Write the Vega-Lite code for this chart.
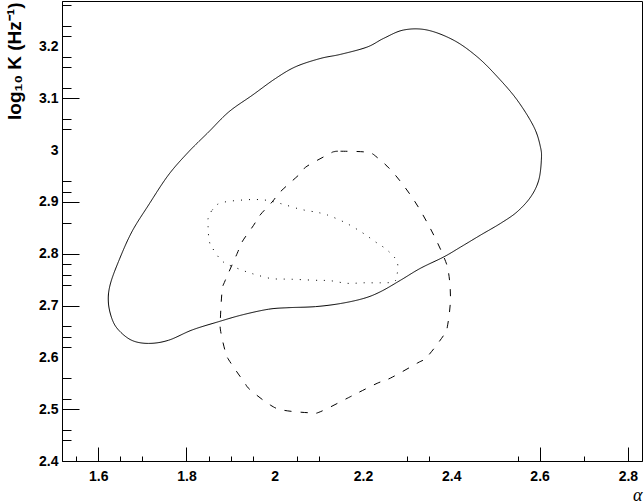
{
  "$schema": "https://vega.github.io/schema/vega-lite/v6.json",
  "width": 580,
  "height": 460,
  "autosize": {"type": "none"},
  "padding": {"left": 62, "top": 1, "right": 2, "bottom": 43},
  "background": "white",
  "config": {
    "view": {"stroke": "black", "strokeWidth": 1},
    "axis": {
      "grid": false,
      "domainColor": "black",
      "tickColor": "black",
      "labelColor": "black",
      "titleColor": "black",
      "labelFont": "Liberation Sans",
      "labelFontWeight": "bold",
      "labelFontSize": 14,
      "labelFlush": false,
      "labelOverlap": false
    }
  },
  "data": {
    "values": [
      {"c": "solid", "i": 1, "alpha": 1.623, "k": 2.707},
      {"c": "solid", "i": 2, "alpha": 1.627, "k": 2.740},
      {"c": "solid", "i": 3, "alpha": 1.646, "k": 2.785},
      {"c": "solid", "i": 4, "alpha": 1.676, "k": 2.842},
      {"c": "solid", "i": 5, "alpha": 1.714, "k": 2.894},
      {"c": "solid", "i": 6, "alpha": 1.759, "k": 2.952},
      {"c": "solid", "i": 7, "alpha": 1.805, "k": 2.997},
      {"c": "solid", "i": 8, "alpha": 1.850, "k": 3.035},
      {"c": "solid", "i": 9, "alpha": 1.896, "k": 3.074},
      {"c": "solid", "i": 10, "alpha": 1.949, "k": 3.106},
      {"c": "solid", "i": 11, "alpha": 2.001, "k": 3.138},
      {"c": "solid", "i": 12, "alpha": 2.047, "k": 3.161},
      {"c": "solid", "i": 13, "alpha": 2.103, "k": 3.177},
      {"c": "solid", "i": 14, "alpha": 2.149, "k": 3.185},
      {"c": "solid", "i": 15, "alpha": 2.209, "k": 3.199},
      {"c": "solid", "i": 16, "alpha": 2.247, "k": 3.216},
      {"c": "solid", "i": 17, "alpha": 2.292, "k": 3.232},
      {"c": "solid", "i": 18, "alpha": 2.345, "k": 3.232},
      {"c": "solid", "i": 19, "alpha": 2.406, "k": 3.212},
      {"c": "solid", "i": 20, "alpha": 2.459, "k": 3.180},
      {"c": "solid", "i": 21, "alpha": 2.504, "k": 3.142},
      {"c": "solid", "i": 22, "alpha": 2.549, "k": 3.097},
      {"c": "solid", "i": 23, "alpha": 2.587, "k": 3.045},
      {"c": "solid", "i": 24, "alpha": 2.602, "k": 3.006},
      {"c": "solid", "i": 25, "alpha": 2.604, "k": 2.981},
      {"c": "solid", "i": 26, "alpha": 2.598, "k": 2.942},
      {"c": "solid", "i": 27, "alpha": 2.580, "k": 2.910},
      {"c": "solid", "i": 28, "alpha": 2.549, "k": 2.881},
      {"c": "solid", "i": 29, "alpha": 2.512, "k": 2.859},
      {"c": "solid", "i": 30, "alpha": 2.466, "k": 2.836},
      {"c": "solid", "i": 31, "alpha": 2.421, "k": 2.813},
      {"c": "solid", "i": 32, "alpha": 2.383, "k": 2.794},
      {"c": "solid", "i": 33, "alpha": 2.330, "k": 2.772},
      {"c": "solid", "i": 34, "alpha": 2.285, "k": 2.749},
      {"c": "solid", "i": 35, "alpha": 2.240, "k": 2.727},
      {"c": "solid", "i": 36, "alpha": 2.202, "k": 2.714},
      {"c": "solid", "i": 37, "alpha": 2.149, "k": 2.704},
      {"c": "solid", "i": 38, "alpha": 2.092, "k": 2.698},
      {"c": "solid", "i": 39, "alpha": 2.032, "k": 2.696},
      {"c": "solid", "i": 40, "alpha": 1.986, "k": 2.693},
      {"c": "solid", "i": 41, "alpha": 1.926, "k": 2.682},
      {"c": "solid", "i": 42, "alpha": 1.873, "k": 2.669},
      {"c": "solid", "i": 43, "alpha": 1.813, "k": 2.653},
      {"c": "solid", "i": 44, "alpha": 1.759, "k": 2.633},
      {"c": "solid", "i": 45, "alpha": 1.714, "k": 2.627},
      {"c": "solid", "i": 46, "alpha": 1.676, "k": 2.633},
      {"c": "solid", "i": 47, "alpha": 1.646, "k": 2.653},
      {"c": "solid", "i": 48, "alpha": 1.631, "k": 2.675},

      {"c": "dashed", "i": 1, "alpha": 2.134, "k": 2.997},
      {"c": "dashed", "i": 2, "alpha": 2.149, "k": 2.998},
      {"c": "dashed", "i": 3, "alpha": 2.209, "k": 2.996},
      {"c": "dashed", "i": 4, "alpha": 2.232, "k": 2.986},
      {"c": "dashed", "i": 5, "alpha": 2.270, "k": 2.955},
      {"c": "dashed", "i": 6, "alpha": 2.315, "k": 2.904},
      {"c": "dashed", "i": 7, "alpha": 2.353, "k": 2.848},
      {"c": "dashed", "i": 8, "alpha": 2.383, "k": 2.794},
      {"c": "dashed", "i": 9, "alpha": 2.394, "k": 2.762},
      {"c": "dashed", "i": 10, "alpha": 2.398, "k": 2.711},
      {"c": "dashed", "i": 11, "alpha": 2.391, "k": 2.659},
      {"c": "dashed", "i": 12, "alpha": 2.383, "k": 2.643},
      {"c": "dashed", "i": 13, "alpha": 2.345, "k": 2.601},
      {"c": "dashed", "i": 14, "alpha": 2.323, "k": 2.589},
      {"c": "dashed", "i": 15, "alpha": 2.262, "k": 2.560},
      {"c": "dashed", "i": 16, "alpha": 2.232, "k": 2.550},
      {"c": "dashed", "i": 17, "alpha": 2.187, "k": 2.531},
      {"c": "dashed", "i": 18, "alpha": 2.164, "k": 2.521},
      {"c": "dashed", "i": 19, "alpha": 2.103, "k": 2.495},
      {"c": "dashed", "i": 20, "alpha": 2.081, "k": 2.493},
      {"c": "dashed", "i": 21, "alpha": 2.020, "k": 2.498},
      {"c": "dashed", "i": 22, "alpha": 1.990, "k": 2.508},
      {"c": "dashed", "i": 23, "alpha": 1.945, "k": 2.537},
      {"c": "dashed", "i": 24, "alpha": 1.930, "k": 2.553},
      {"c": "dashed", "i": 25, "alpha": 1.896, "k": 2.595},
      {"c": "dashed", "i": 26, "alpha": 1.888, "k": 2.611},
      {"c": "dashed", "i": 27, "alpha": 1.877, "k": 2.653},
      {"c": "dashed", "i": 28, "alpha": 1.877, "k": 2.678},
      {"c": "dashed", "i": 29, "alpha": 1.881, "k": 2.730},
      {"c": "dashed", "i": 30, "alpha": 1.888, "k": 2.749},
      {"c": "dashed", "i": 31, "alpha": 1.915, "k": 2.801},
      {"c": "dashed", "i": 32, "alpha": 1.926, "k": 2.823},
      {"c": "dashed", "i": 33, "alpha": 1.952, "k": 2.855},
      {"c": "dashed", "i": 34, "alpha": 1.967, "k": 2.875},
      {"c": "dashed", "i": 35, "alpha": 1.994, "k": 2.900},
      {"c": "dashed", "i": 36, "alpha": 2.013, "k": 2.920},
      {"c": "dashed", "i": 37, "alpha": 2.058, "k": 2.955},
      {"c": "dashed", "i": 38, "alpha": 2.073, "k": 2.969},
      {"c": "dashed", "i": 39, "alpha": 2.126, "k": 2.994},

      {"c": "dotted", "i": 1, "alpha": 1.849, "k": 2.868},
      {"c": "dotted", "i": 2, "alpha": 1.858, "k": 2.884},
      {"c": "dotted", "i": 3, "alpha": 1.877, "k": 2.898},
      {"c": "dotted", "i": 4, "alpha": 1.930, "k": 2.904},
      {"c": "dotted", "i": 5, "alpha": 1.975, "k": 2.904},
      {"c": "dotted", "i": 6, "alpha": 2.013, "k": 2.897},
      {"c": "dotted", "i": 7, "alpha": 2.058, "k": 2.886},
      {"c": "dotted", "i": 8, "alpha": 2.096, "k": 2.880},
      {"c": "dotted", "i": 9, "alpha": 2.119, "k": 2.875},
      {"c": "dotted", "i": 10, "alpha": 2.160, "k": 2.860},
      {"c": "dotted", "i": 11, "alpha": 2.198, "k": 2.841},
      {"c": "dotted", "i": 12, "alpha": 2.228, "k": 2.823},
      {"c": "dotted", "i": 13, "alpha": 2.255, "k": 2.807},
      {"c": "dotted", "i": 14, "alpha": 2.277, "k": 2.785},
      {"c": "dotted", "i": 15, "alpha": 2.277, "k": 2.759},
      {"c": "dotted", "i": 16, "alpha": 2.270, "k": 2.746},
      {"c": "dotted", "i": 17, "alpha": 2.240, "k": 2.744},
      {"c": "dotted", "i": 18, "alpha": 2.202, "k": 2.744},
      {"c": "dotted", "i": 19, "alpha": 2.164, "k": 2.743},
      {"c": "dotted", "i": 20, "alpha": 2.126, "k": 2.748},
      {"c": "dotted", "i": 21, "alpha": 2.088, "k": 2.749},
      {"c": "dotted", "i": 22, "alpha": 2.035, "k": 2.751},
      {"c": "dotted", "i": 23, "alpha": 1.994, "k": 2.752},
      {"c": "dotted", "i": 24, "alpha": 1.960, "k": 2.759},
      {"c": "dotted", "i": 25, "alpha": 1.937, "k": 2.765},
      {"c": "dotted", "i": 26, "alpha": 1.915, "k": 2.772},
      {"c": "dotted", "i": 27, "alpha": 1.892, "k": 2.780},
      {"c": "dotted", "i": 28, "alpha": 1.877, "k": 2.789},
      {"c": "dotted", "i": 29, "alpha": 1.862, "k": 2.807},
      {"c": "dotted", "i": 30, "alpha": 1.854, "k": 2.817},
      {"c": "dotted", "i": 31, "alpha": 1.850, "k": 2.836},
      {"c": "dotted", "i": 32, "alpha": 1.849, "k": 2.852}
    ]
  },
  "mark": {"type": "line", "color": "black", "strokeWidth": 1, "interpolate": "cardinal-closed"},
  "encoding": {
    "x": {
      "field": "alpha",
      "type": "quantitative",
      "scale": {"domain": [1.518, 2.832], "nice": false, "zero": false},
      "axis": {
        "values": [1.55, 1.6, 1.65, 1.7, 1.8, 1.85, 1.9, 1.95, 2, 2.05, 2.1, 2.2, 2.3, 2.35, 2.4, 2.55, 2.6, 2.7, 2.8],
        "labelExpr": "indexof([1.6, 1.8, 2, 2.2, 2.4, 2.6, 2.8], datum.value) >= 0 ? format(datum.value, '.1~f') : ''",
        "tickSize": {"condition": {"test": "indexof([1.6, 1.8, 2, 2.2, 2.4, 2.6, 2.8], datum.value) >= 0", "value": -14}, "value": -5},
        "tickOpacity": {"condition": {"test": "indexof([2, 2.2, 2.4], datum.value) >= 0", "value": 0}, "value": 1},
        "labelPadding": 22,
        "title": "α",
        "titleFont": "Liberation Serif",
        "titleFontStyle": "italic",
        "titleFontWeight": "normal",
        "titleFontSize": 18,
        "titleAlign": "right",
        "titleAnchor": "end",
        "titleBaseline": "alphabetic",
        "titleX": 580,
        "titleY": 39
      }
    },
    "y": {
      "field": "k",
      "type": "quantitative",
      "scale": {"domain": [2.4, 3.288], "nice": false, "zero": false},
      "axis": {
        "values": [2.4, 2.44, 2.46, 2.5, 2.52, 2.56, 2.6, 2.62, 2.64, 2.66, 2.7, 2.74, 2.76, 2.78, 2.8, 2.86, 2.9, 2.92, 2.94, 3, 3.04, 3.06, 3.1, 3.12, 3.16, 3.18, 3.2, 3.22, 3.24, 3.28],
        "labelExpr": "indexof([2.4, 2.5, 2.6, 2.7, 2.8, 2.9, 3, 3.1, 3.2], datum.value) >= 0 ? format(datum.value, '.1~f') : ''",
        "tickSize": {"condition": {"test": "indexof([2.4, 2.5, 2.6, 2.7, 2.8, 2.9, 3, 3.1, 3.2], datum.value) >= 0", "value": -17}, "value": -9},
        "tickOpacity": {"condition": {"test": "indexof([2.4, 2.6, 3, 3.2], datum.value) >= 0", "value": 0}, "value": 1},
        "labelPadding": 21,
        "title": "log₁₀ K (Hz⁻¹)",
        "titleFont": "Liberation Sans",
        "titleFontWeight": "bold",
        "titleFontSize": 19,
        "titleAngle": -90,
        "titleAlign": "right",
        "titleAnchor": "end",
        "titleBaseline": "alphabetic",
        "titleX": -42,
        "titleY": 1
      }
    },
    "order": {"field": "i", "type": "quantitative"},
    "detail": {"field": "c", "type": "nominal"},
    "strokeDash": {
      "field": "c",
      "type": "nominal",
      "scale": {"domain": ["solid", "dashed", "dotted"], "range": [[1, 0], [7, 9], [1, 7]]},
      "legend": null
    }
  }
}
